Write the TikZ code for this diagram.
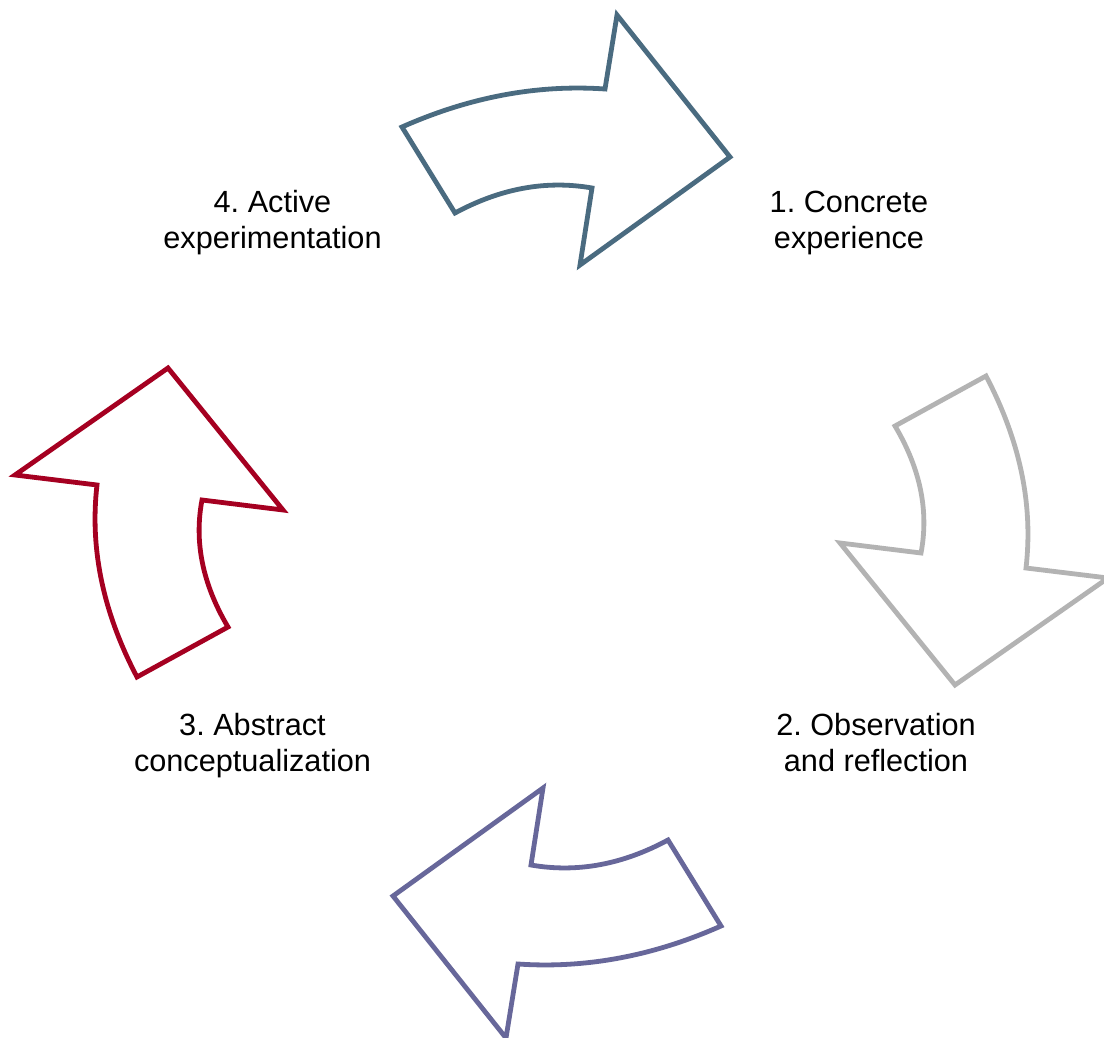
\documentclass[tikz,border=0pt]{standalone}
\usepackage{fontspec}
\setmainfont{Liberation Sans}
\frenchspacing
\usetikzlibrary{calc}
\definecolor{cTop}{HTML}{4A6B80}
\definecolor{cRight}{HTML}{B3B3B3}
\definecolor{cBottom}{HTML}{67679A}
\definecolor{cLeft}{HTML}{A50021}
\tikzset{
  cyclearrow/.style={line width=3.6pt, line join=miter, fill=white},
  stagelabel/.style={align=center, inner sep=0pt, anchor=base, text=black,
    font=\fontsize{23pt}{26.6pt}\selectfont}
}
\begin{document}
\begin{tikzpicture}[x=0.75pt, y=-0.75pt]
\useasboundingbox (0,0) rectangle (1104,1038);
\clip (0,0) rectangle (1104,1038);
% top arrow (4 -> 1)
\draw[cyclearrow, draw=cTop] (402,127)
  .. controls ($(402,127)!0.667!(503.5,82)$) and ($(605,89)!0.667!(503.5,82)$) .. (605,89)
  -- (617,15) -- (730,157) -- (580,265) -- (592,188)
  .. controls ($(592,188)!0.667!(523.5,176)$) and ($(455,213)!0.667!(523.5,176)$) .. (455,213)
  -- cycle;
% right arrow (1 -> 2)
\draw[cyclearrow, draw=cRight] (955,685) -- (840,543) -- (921,553)
  .. controls ($(921,553)!0.667!(933,490)$) and ($(895,426)!0.667!(933,490)$) .. (895,426)
  -- (986,376)
  .. controls ($(986,376)!0.667!(1037,473)$) and ($(1026,568)!0.667!(1037,473)$) .. (1026,568)
  -- (1108,578) -- cycle;
% bottom arrow (2 -> 3)
\draw[cyclearrow, draw=cBottom] (721,926)
  .. controls ($(721,926)!0.667!(619.5,971)$) and ($(518,964)!0.667!(619.5,971)$) .. (518,964)
  -- (506,1038) -- (393,896) -- (543,788) -- (531,865)
  .. controls ($(531,865)!0.667!(599.5,877)$) and ($(668,840)!0.667!(599.5,877)$) .. (668,840)
  -- cycle;
% left arrow (3 -> 4)
\draw[cyclearrow, draw=cLeft] (168,368) -- (283,510) -- (202,500)
  .. controls ($(202,500)!0.667!(190,563)$) and ($(228,627)!0.667!(190,563)$) .. (228,627)
  -- (137,677)
  .. controls ($(137,677)!0.667!(86,580)$) and ($(97,485)!0.667!(86,580)$) .. (97,485)
  -- (15,475) -- cycle;
% labels
\node[stagelabel] (s1) at (849,248) {1. Concrete\\experience};
\node[stagelabel] (s2) at (876,771) {2. Observation\\and reflection};
\node[stagelabel] (s3) at (252.5,771) {3. Abstract\\conceptualization};
\node[stagelabel] (s4) at (272.5,248) {4. Active\\experimentation};
\end{tikzpicture}
\end{document}
